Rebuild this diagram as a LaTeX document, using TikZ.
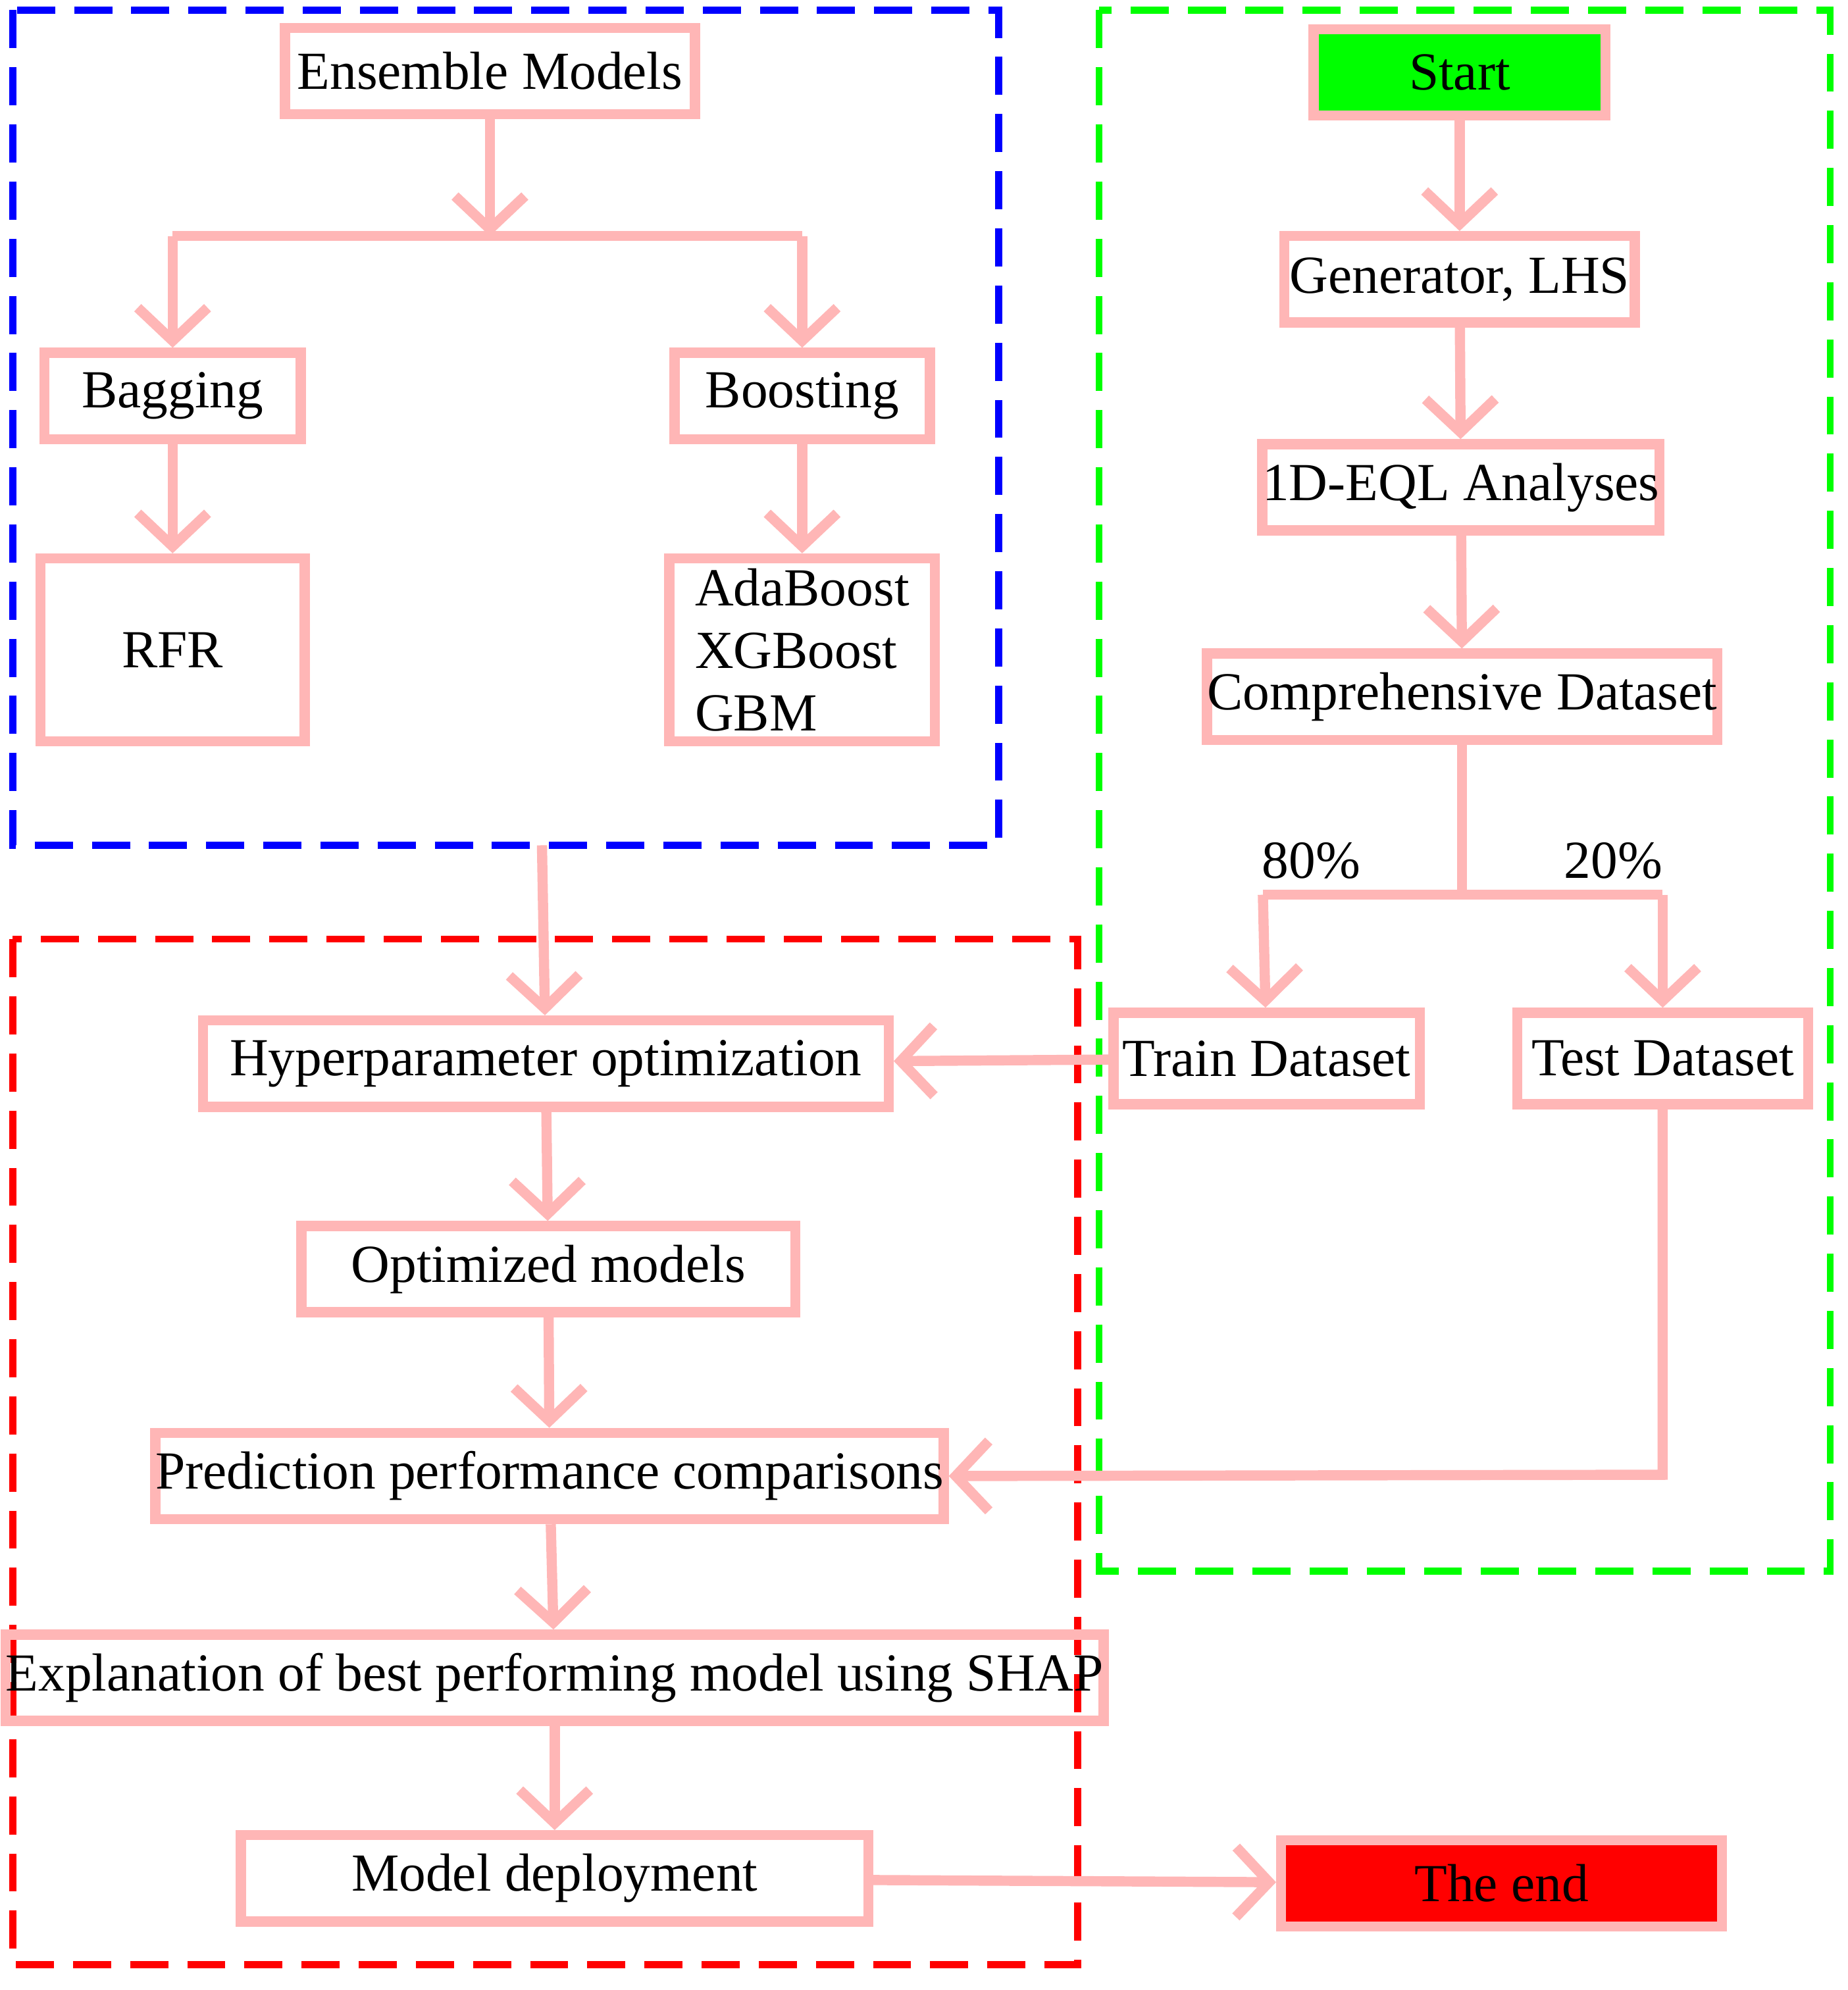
\documentclass[tikz,border=0pt]{standalone}
\usepackage{fontspec}
\setmainfont{Liberation Serif}
\usetikzlibrary{arrows.meta}
\definecolor{pk}{RGB}{255,182,182}
\begin{document}
\begin{tikzpicture}[x=0.01cm,y=-0.01cm,
 box/.style={draw=pk,line width=0.08cm,minimum height=0.68cm,inner sep=0pt,font=\fontsize{12}{14}\selectfont},
 ar/.style={draw=pk,line width=0.08cm,-{Straight Barb[length=2.6mm,width=5.5mm]}},
 ln/.style={draw=pk,line width=0.08cm},
 dsh/.style={line width=0.055cm,dash pattern=on 0.3cm off 0.15cm}]
\useasboundingbox (0,0) rectangle (1456,1568);
\draw[dsh,blue] (10,8) rectangle (787,666);
\draw[dsh,green] (866,8) rectangle (1442,1238);
\draw[dsh,red] (10,740) rectangle (849,1548);
\node[box,minimum width=3.23cm] (ens) at (386,56) {Ensemble Models};
\node[box,minimum width=2.02cm] (bag) at (136,312) {Bagging};
\node[box,minimum width=2.01cm] (boo) at (632,312) {Boosting};
\node[box,minimum width=2.08cm,minimum height=1.44cm] (rfr) at (136,512) {RFR};
\node[box,minimum width=2.09cm,minimum height=1.44cm,align=left] (ada) at (632,512) {AdaBoost\\XGBoost\\GBM\hspace*{1.2em}};
\node[box,minimum width=2.3cm,fill=green] (start) at (1150,57) {Start};
\node[box,minimum width=2.76cm] (gen) at (1150,220) {Generator, LHS};
\node[box,minimum width=3.02cm] (eql) at (1151,384) {1D-EQL Analyses};
\node[box,minimum width=3.89cm] (comp) at (1152,549) {Comprehensive Dataset};
\node[box,minimum width=2.41cm,minimum height=0.72cm] (train) at (998,834) {Train Dataset};
\node[box,minimum width=2.29cm,minimum height=0.72cm] (test) at (1310,834) {Test Dataset};
\node[box,minimum width=5.4cm] (hyp) at (430,838) {Hyperparameter optimization};
\node[box,minimum width=3.89cm] (opt) at (432,1000) {Optimized models};
\node[box,minimum width=6.06cm] (pred) at (433,1163) {Prediction performance comparisons};
\node[box,minimum width=8.01cm] (expl) at (437,1322) {Explanation of best performing model using SHAP};
\node[box,minimum width=4.94cm] (dep) at (437,1480) {Model deployment};
\node[box,minimum width=3.47cm,fill=red] (end) at (1183,1484) {The end};
\coordinate (s1) at (386,186);
\coordinate (s2) at (1152,705);
\coordinate (bb) at (427,666);
\coordinate (tc) at (1310,1162);
\draw[ar] (ens) -- (s1);
\draw[ln] (136,186) -- (632,186);
\draw[ar] (136,186) -- (bag);
\draw[ar] (632,186) -- (boo);
\draw[ar] (bag) -- (rfr);
\draw[ar] (boo) -- (ada);
\draw[ar] (start) -- (gen);
\draw[ar] (gen) -- (eql);
\draw[ar] (eql) -- (comp);
\draw[ln] (comp) -- (s2);
\draw[ln] (995,705) -- (1310,705);
\draw[ar] (995,705) -- (train);
\draw[ar] (1310,705) -- (test);
\node[font=\fontsize{12}{14}\selectfont] (p80) at (1033,678) {80\%};
\node[font=\fontsize{12}{14}\selectfont] (p20) at (1271,678) {20\%};
\draw[ar] (bb) -- (hyp);
\draw[ar] (train) -- (hyp);
\draw[ar] (hyp) -- (opt);
\draw[ar] (opt) -- (pred);
\draw[ar] (pred) -- (expl);
\draw[ar] (expl) -- (dep);
\draw[ar] (test) -- (tc) -- (pred.east);
\draw[ar] (dep) -- (end);
\end{tikzpicture}
\end{document}
